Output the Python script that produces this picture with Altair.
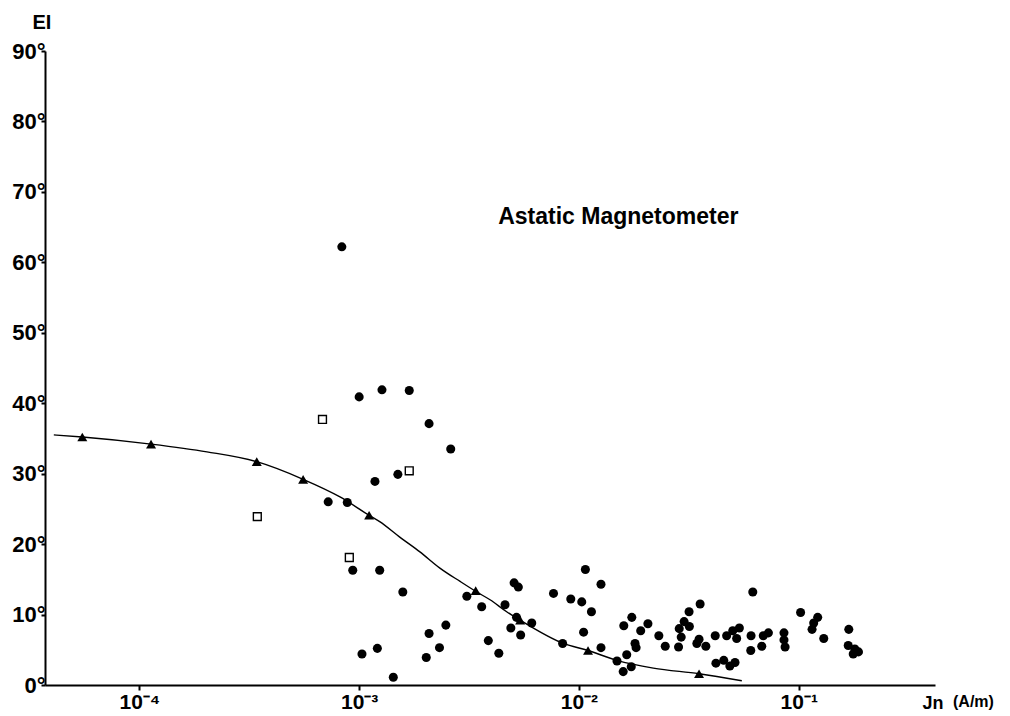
import altair as alt
import pandas as pd

# Filled circles: Jn (A/m), EI (deg)
CIRCLE_JN = [8.34e-4, 1.00e-3, 1.27e-3, 1.69e-3, 2.08e-3, 2.61e-3, 1.18e-3, 1.50e-3, 7.23e-4, 8.83e-4,
             9.35e-4, 1.24e-3, 1.58e-3, 1.03e-3, 1.21e-3, 1.43e-3, 2.08e-3, 2.48e-3, 2.02e-3, 2.32e-3,
             3.09e-3, 3.61e-3, 4.61e-3, 3.87e-3, 4.32e-3, 5.07e-3, 5.30e-3, 4.90e-3, 5.43e-3, 6.10e-3,
             5.20e-3, 7.66e-3, 8.43e-3, 9.18e-3, 1.03e-2, 1.07e-2, 1.14e-2, 1.05e-2, 1.26e-2, 1.26e-2,
             1.49e-2, 1.65e-2, 1.59e-2, 1.73e-2, 1.60e-2, 1.74e-2, 1.80e-2, 1.82e-2, 1.91e-2, 2.06e-2,
             2.31e-2, 2.47e-2, 2.84e-2, 2.86e-2, 2.92e-2, 3.01e-2, 3.18e-2, 3.17e-2, 3.56e-2, 3.44e-2,
             3.52e-2, 3.78e-2, 4.17e-2, 4.20e-2, 4.56e-2, 4.70e-2, 4.86e-2, 5.13e-2, 5.01e-2, 5.22e-2,
             5.37e-2, 6.05e-2, 6.07e-2, 6.18e-2, 6.79e-2, 6.90e-2, 7.28e-2, 8.57e-2, 8.57e-2, 8.67e-2,
             1.02e-1, 1.15e-1, 1.17e-1, 1.22e-1, 1.30e-1, 1.69e-1, 1.68e-1, 1.80e-1, 1.77e-1, 1.87e-1]
CIRCLE_EI = [62.2, 40.9, 41.9, 41.8, 37.1, 33.5, 28.9, 29.9, 26.0, 25.9,
             16.3, 16.3, 13.2, 4.4, 5.2, 1.1, 7.3, 8.5, 3.9, 5.3,
             12.6, 11.1, 11.4, 6.3, 4.5, 14.5, 13.9, 8.1, 7.1, 8.8,
             9.6, 13.0, 5.9, 12.2, 11.8, 16.4, 10.4, 7.5, 14.3, 5.3,
             3.4, 4.3, 1.9, 2.6, 8.4, 9.6, 5.9, 5.3, 7.7, 8.7,
             7.0, 5.5, 5.4, 8.0, 6.8, 9.0, 8.3, 10.4, 11.5, 5.9,
             6.5, 5.5, 7.0, 3.1, 3.5, 7.0, 2.7, 3.2, 7.7, 6.6,
             8.1, 4.9, 7.0, 13.2, 5.5, 7.0, 7.4, 7.4, 6.4, 5.4,
             10.3, 7.9, 8.8, 9.6, 6.6, 7.9, 5.6, 5.1, 4.4, 4.7]

# Open squares
SQUARE_JN = [3.44e-4, 6.81e-4, 9.02e-4, 1.69e-3]
SQUARE_EI = [23.9, 37.7, 18.1, 30.4]

# Filled triangles
TRI_JN = [5.5e-5, 1.13e-4, 3.42e-4, 5.56e-4, 1.11e-3, 3.39e-3, 5.40e-3, 1.10e-2, 3.52e-2]
TRI_EI = [35.2, 34.2, 31.7, 29.2, 24.1, 13.4, 9.2, 4.9, 1.6]

# Hand-drawn curve, points read along it
CURVE_JN = [4.08e-5, 5.5e-5, 1.13e-4, 2.03e-4, 3.42e-4, 5.56e-4, 8.18e-4, 1.11e-3, 1.24e-3, 1.53e-3,
            1.89e-3, 2.33e-3, 2.88e-3, 3.43e-3, 3.94e-3, 4.69e-3, 5.40e-3, 8.49e-3, 1.10e-2, 1.49e-2,
            2.18e-2, 3.52e-2, 5.51e-2]
CURVE_EI = [35.5, 35.2, 34.2, 33.1, 31.7, 29.2, 26.7, 24.1, 23.2, 21.0,
            18.9, 16.6, 14.7, 13.2, 12.1, 10.4, 9.2, 5.9, 4.9, 3.5,
            2.4, 1.6, 0.6]

X_DOMAIN = [3.72e-5, 0.417]
X_TICKS = [1e-4, 1e-3, 1e-2, 1e-1]
X_TICK_LABELS = ["10\u207b\u2074", "10\u207b\u00b3", "10\u207b\u00b2", "10\u207b\u00b9"]
Y_TICKS = [0, 10, 20, 30, 40, 50, 60, 70, 80, 90]

ANNOT_TEXT = ["Astatic Magnetometer"]
ANNOT_JN = [4.29e-3]
ANNOT_EI = [66.5]

FONT = "Liberation Sans"

circles = pd.DataFrame({"jn": CIRCLE_JN, "ei": CIRCLE_EI})
squares = pd.DataFrame({"jn": SQUARE_JN, "ei": SQUARE_EI})
tris = pd.DataFrame({"jn": TRI_JN, "ei": TRI_EI})
curve = pd.DataFrame({"jn": CURVE_JN, "ei": CURVE_EI})
annot = pd.DataFrame({"jn": ANNOT_JN, "ei": ANNOT_EI, "t": ANNOT_TEXT})

label_array = "[" + ",".join("'" + s + "'" for s in X_TICK_LABELS) + "]"
x_label_expr = label_array + "[round(log(datum.value)/LN10)+4]"

xs = alt.Scale(type="log", domain=X_DOMAIN, nice=False)
ys = alt.Scale(domain=[0, 90], nice=False)

x_axis = alt.Axis(values=X_TICKS, labelExpr=x_label_expr, grid=False, domainWidth=2, domainColor="black",
                  tickColor="black", tickWidth=2, tickSize=5, labelFont=FONT, labelFontSize=21,
                  labelFontWeight="bold", labelColor="black", labelPadding=1, labelBaseline="top",
                  title="Jn", titleFont=FONT, titleFontSize=18, titleFontWeight="bold", titleColor="black",
                  titleAnchor="start", titleAlign="left", titleX=877, titleY=23, titleBaseline="alphabetic")
y_axis = alt.Axis(values=Y_TICKS, labelExpr="datum.value + '\u00b0'", grid=False, domainWidth=2,
                  domainColor="black", tickColor="black", tickWidth=2, tickSize=4, labelFont=FONT,
                  labelFontSize=22, labelFontWeight="bold", labelColor="black", labelPadding=-4,
                  title="EI", titleFont=FONT, titleFontSize=20, titleFontWeight="bold", titleColor="black",
                  titleAngle=0, titleAlign="left", titleX=-13, titleY=-23, titleBaseline="alphabetic")

base_x = alt.X("jn:Q", scale=xs, axis=x_axis)
base_y = alt.Y("ei:Q", scale=ys, axis=y_axis)

line = alt.Chart(curve).mark_line(color="black", strokeWidth=1.4, interpolate="monotone").encode(
    x=base_x, y=base_y, order="jn:Q")
circ = alt.Chart(circles).mark_point(shape="circle", filled=True, color="black", size=82, opacity=1).encode(
    x="jn:Q", y="ei:Q")
sq = alt.Chart(squares).mark_point(shape="square", filled=False, color="black", size=62, strokeWidth=1.4,
                                   opacity=1).encode(x="jn:Q", y="ei:Q")
tri = alt.Chart(tris).mark_point(shape="triangle-up", filled=True, color="black", size=100, opacity=1).encode(
    x="jn:Q", y="ei:Q")
txt = alt.Chart(annot).mark_text(font=FONT, fontSize=23, fontWeight="bold", align="left", baseline="middle",
                                 color="black").encode(x="jn:Q", y="ei:Q", text="t:N")
unit = alt.Chart(annot).mark_text(font=FONT, fontSize=16, fontWeight="bold", align="left",
                                  baseline="alphabetic", color="black").encode(
    x=alt.value(908), y=alt.value(656), text=alt.value("(A/m)"))

chart = alt.layer(line, circ, sq, tri, txt, unit).properties(
    width=890, height=634,
    autosize=alt.AutoSizeParams(type="none"),
    padding={"left": 37, "top": 43, "right": 60, "bottom": 28},
    background="white",
).configure_view(stroke=None)

chart.save("out.html", embed_options={"renderer": "svg", "actions": False})
